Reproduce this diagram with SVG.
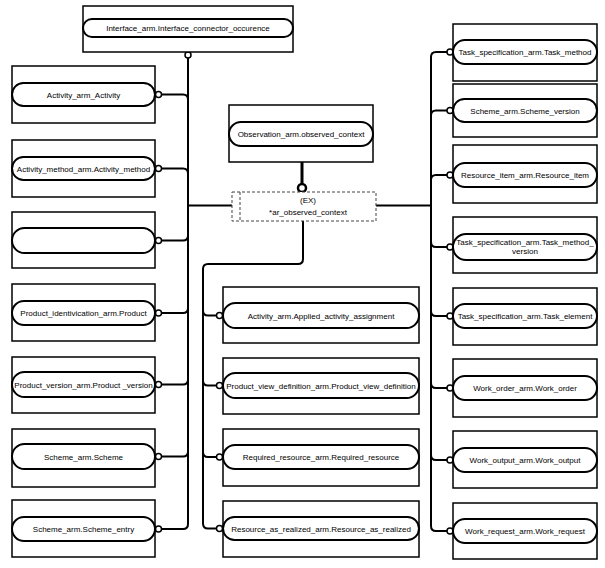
<svg xmlns="http://www.w3.org/2000/svg" width="605" height="568" viewBox="0 0 605 568">
<style>
.box{fill:#fff;stroke:#000;stroke-width:1.5}
.pill{fill:#fff;stroke:#000;stroke-width:2}
.t{font-family:"Liberation Sans",Arial,sans-serif;font-size:8px;fill:#000;text-anchor:middle}
.c{fill:none;stroke:#000;stroke-width:2}
.o{fill:#fff;stroke:#000;stroke-width:1.5}
</style>
<rect width="605" height="568" fill="#fff"/>
<g id="connectors">
<path class="c" d="M188 58 V524 Q188 529 183 529 H161.5"/>
<path class="c" d="M161.5 94.5 H183 Q188 94.5 188 99.5"/>
<path class="c" d="M161.5 168.5 H183 Q188 168.5 188 173.5"/>
<path class="c" d="M161.5 240.5 H183 Q188 240.5 188 235.5"/>
<path class="c" d="M161.5 313 H183 Q188 313 188 308"/>
<path class="c" d="M161.5 384.5 H183 Q188 384.5 188 379.5"/>
<path class="c" d="M161.5 456.5 H183 Q188 456.5 188 451.5"/>
<path class="c" d="M188 205.5 H232"/>
<path class="c" d="M303 221 V259 Q303 264 298 264 H208 Q203 264 203 269 V523.5 Q203 528.5 208 528.5 H216.5"/>
<path class="c" d="M203 310.5 Q203 315.5 208 315.5 H216.5"/>
<path class="c" d="M203 380.5 Q203 385.5 208 385.5 H216.5"/>
<path class="c" d="M203 452 Q203 457 208 457 H216.5"/>
<path class="c" d="M376 205.5 H431"/>
<path class="c" d="M447 52 H436 Q431 52 431 57 V526 Q431 531 436 531 H447"/>
<path class="c" d="M447 110.5 H436 Q431 110.5 431 115.5"/>
<path class="c" d="M447 175 H436 Q431 175 431 180"/>
<path class="c" d="M447 247 H436 Q431 247 431 242"/>
<path class="c" d="M447 316 H436 Q431 316 431 311"/>
<path class="c" d="M447 388 H436 Q431 388 431 383"/>
<path class="c" d="M447 460 H436 Q431 460 431 455"/>
<path fill="none" stroke="#000" stroke-width="3" d="M302 162 V184"/>
<circle class="o" cx="188" cy="55" r="3"/>
<circle class="o" cx="158.5" cy="94.5" r="3"/>
<circle class="o" cx="158.5" cy="168.5" r="3"/>
<circle class="o" cx="158.5" cy="240.5" r="3"/>
<circle class="o" cx="158.5" cy="313" r="3"/>
<circle class="o" cx="158.5" cy="384.5" r="3"/>
<circle class="o" cx="158.5" cy="456.5" r="3"/>
<circle class="o" cx="158.5" cy="529" r="3"/>
<circle class="o" cx="219.5" cy="315.5" r="3"/>
<circle class="o" cx="219.5" cy="385.5" r="3"/>
<circle class="o" cx="219.5" cy="457" r="3"/>
<circle class="o" cx="219.5" cy="528.5" r="3"/>
<circle class="o" cx="450" cy="52" r="3"/>
<circle class="o" cx="450" cy="110.5" r="3"/>
<circle class="o" cx="450" cy="175" r="3"/>
<circle class="o" cx="450" cy="247" r="3"/>
<circle class="o" cx="450" cy="316" r="3"/>
<circle class="o" cx="450" cy="388" r="3"/>
<circle class="o" cx="450" cy="460" r="3"/>
<circle class="o" cx="450" cy="531" r="3"/>
<circle fill="#fff" stroke="#000" stroke-width="2.5" cx="302" cy="188" r="4"/>
</g>
<g id="n_interface">
<rect class="box" x="83" y="6" width="210" height="46"/>
<rect class="pill" x="83" y="19" width="210" height="18" rx="9"/>
<text class="t" x="188" y="31">Interface_arm.Interface_connector_occurence</text>
</g>
<g id="n_activity">
<rect class="box" x="12" y="66" width="143" height="57"/>
<rect class="pill" x="12" y="83" width="143" height="23" rx="11.5"/>
<text class="t" x="83.5" y="97.5">Activity_arm_Activity</text>
</g>
<g id="n_activity_method">
<rect class="box" x="12" y="140" width="143" height="57"/>
<rect class="pill" x="12" y="157" width="143" height="23" rx="11.5"/>
<text class="t" x="83.5" y="171.5">Activity_method_arm.Activity_method</text>
</g>
<g id="n_empty">
<rect class="box" x="12" y="212" width="143" height="56"/>
<rect class="pill" x="12" y="228" width="143" height="25" rx="12.5"/>
</g>
<g id="n_product">
<rect class="box" x="12" y="284" width="143" height="57"/>
<rect class="pill" x="12" y="301" width="143" height="24" rx="12"/>
<text class="t" x="83.5" y="316">Product_identivication_arm.Product</text>
</g>
<g id="n_product_version">
<rect class="box" x="12" y="357" width="143" height="56"/>
<rect class="pill" x="12" y="372" width="143" height="25" rx="12.5"/>
<text class="t" x="83.5" y="387.5">Product_version_arm.Product _version</text>
</g>
<g id="n_scheme">
<rect class="box" x="12" y="429" width="143" height="58"/>
<rect class="pill" x="12" y="444" width="143" height="25" rx="12.5"/>
<text class="t" x="83.5" y="459.5">Scheme_arm.Scheme</text>
</g>
<g id="n_scheme_entry">
<rect class="box" x="12" y="500" width="143" height="57"/>
<rect class="pill" x="12" y="517" width="143" height="24" rx="12"/>
<text class="t" x="83.5" y="532">Scheme_arm.Scheme_entry</text>
</g>
<g id="n_observation">
<rect class="box" x="229" y="105" width="144" height="57" stroke-width="2"/>
<rect class="pill" x="229" y="122" width="144" height="24" rx="12"/>
<text class="t" x="301" y="137">Observation_arm.observed_context</text>
</g>
<g id="n_ex">
<rect x="232" y="192" width="144" height="29" fill="#fff" stroke="#444" stroke-width="1" stroke-dasharray="3,2"/>
<line x1="240" y1="192" x2="240" y2="221" stroke="#444" stroke-width="1" stroke-dasharray="3,2"/>
<text class="t" x="308" y="203">(EX)</text>
<text class="t" x="308" y="214.5">*ar_observed_context</text>
</g>
<g id="n_applied_activity">
<rect class="box" x="223" y="287" width="196" height="56"/>
<rect class="pill" x="223" y="303" width="196" height="25" rx="12.5"/>
<text class="t" x="321" y="318.5">Activity_arm.Applied_activity_assignment</text>
</g>
<g id="n_pvd">
<rect class="box" x="223" y="358" width="196" height="56"/>
<rect class="pill" x="223" y="373" width="196" height="25" rx="12.5"/>
<text class="t" x="321" y="388.5">Product_view_definition_arm.Product_view_definition</text>
</g>
<g id="n_required_resource">
<rect class="box" x="223" y="429" width="196" height="57"/>
<rect class="pill" x="223" y="445" width="196" height="24" rx="12"/>
<text class="t" x="321" y="460">Required_resource_arm.Required_resource</text>
</g>
<g id="n_resource_realized">
<rect class="box" x="223" y="501" width="196" height="56"/>
<rect class="pill" x="223" y="517" width="196" height="23" rx="11.5"/>
<text class="t" x="321" y="531.5">Resource_as_realized_arm.Resource_as_realized</text>
</g>
<g id="n_task_method">
<rect class="box" x="453" y="24" width="144" height="57"/>
<rect class="pill" x="453" y="40" width="144" height="24" rx="12"/>
<text class="t" x="525" y="55">Task_specification_arm.Task_method</text>
</g>
<g id="n_scheme_version">
<rect class="box" x="453" y="84" width="144" height="53"/>
<rect class="pill" x="453" y="99" width="144" height="23" rx="11.5"/>
<text class="t" x="525" y="113.5">Scheme_arm.Scheme_version</text>
</g>
<g id="n_resource_item">
<rect class="box" x="453" y="145" width="144" height="58"/>
<rect class="pill" x="453" y="163" width="144" height="24" rx="12"/>
<text class="t" x="525" y="178">Resource_item_arm.Resource_item</text>
</g>
<g id="n_task_method_version">
<rect class="box" x="453" y="217" width="144" height="56"/>
<rect class="pill" x="453" y="234" width="144" height="26" rx="13"/>
<text class="t" x="525" y="244.5">Task_specification_arm.Task_method_</text>
<text class="t" x="525" y="254">version</text>
</g>
<g id="n_task_element">
<rect class="box" x="453" y="288" width="144" height="57"/>
<rect class="pill" x="453" y="304" width="144" height="24" rx="12"/>
<text class="t" x="525" y="319">Task_specification_arm.Task_element</text>
</g>
<g id="n_work_order">
<rect class="box" x="453" y="359" width="144" height="58"/>
<rect class="pill" x="453" y="376" width="144" height="24" rx="12"/>
<text class="t" x="525" y="391">Work_order_arm.Work_order</text>
</g>
<g id="n_work_output">
<rect class="box" x="453" y="431" width="144" height="57"/>
<rect class="pill" x="453" y="448" width="144" height="24" rx="12"/>
<text class="t" x="525" y="463">Work_output_arm.Work_output</text>
</g>
<g id="n_work_request">
<rect class="box" x="453" y="503" width="144" height="56"/>
<rect class="pill" x="453" y="519" width="144" height="24" rx="12"/>
<text class="t" x="525" y="534">Work_request_arm.Work_request</text>
</g>
</svg>
